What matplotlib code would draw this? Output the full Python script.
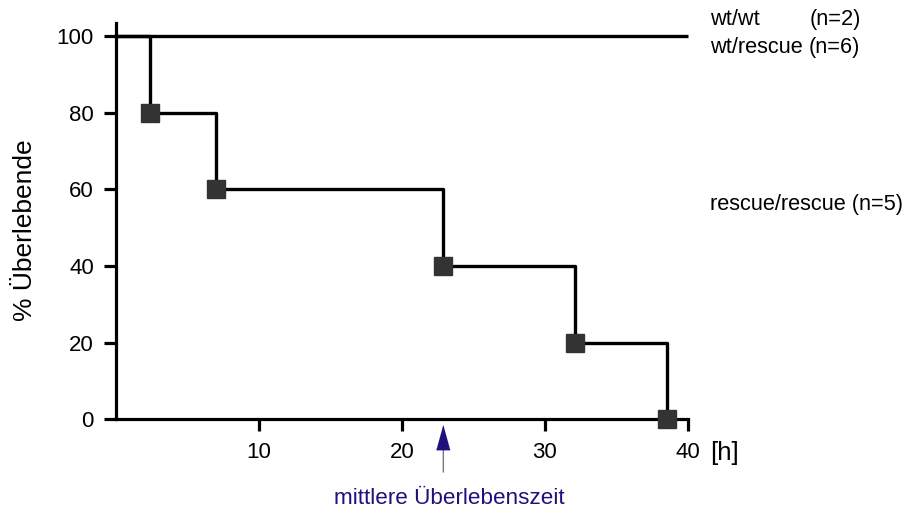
import matplotlib
matplotlib.use("Agg")
import matplotlib.pyplot as plt

plt.rcParams['font.family'] = ['Liberation Sans', 'DejaVu Sans']

# Data
rr_times = [0, 2.4, 7.0, 22.9, 32.1, 38.5]
rr_surv = [100, 80, 60, 40, 20, 0]
wt_times = [0, 40]
wt_surv = [100, 100]
median_time = 22.9
x_ticks = [10, 20, 30, 40]
y_ticks = [0, 20, 40, 60, 80, 100]
names = ["wt/wt", "wt/rescue", "rescue/rescue (n=5)"]
counts = ["(n=2)", "(n=6)"]

fig = plt.figure(figsize=(9.04, 5.11), dpi=100)
ax = fig.add_axes([0.1278, 0.1795, 0.7612 - 0.1278, 0.955 - 0.1795])

lw = 2.4
ax.plot(wt_times, wt_surv, color='black', lw=lw, clip_on=False, solid_capstyle='butt')
ax.step(rr_times, rr_surv, where='post', color='black', lw=lw, clip_on=False)
ax.plot(rr_times[1:], rr_surv[1:], 's', color='#333333', ms=12.5, clip_on=False, zorder=5)

ax.set_xlim(0, 40)
ax.set_ylim(0, 103.4)
for s in ['top', 'right']:
    ax.spines[s].set_visible(False)
for s in ['left', 'bottom']:
    ax.spines[s].set_linewidth(2.3)
ax.set_xticks(x_ticks)
ax.set_yticks(y_ticks)
ax.tick_params(axis='both', length=8.6, width=2.3, labelsize=16)
ax.tick_params(axis='x', pad=7.5)
ax.tick_params(axis='y', pad=7)
ax.set_ylabel('% Überlebende', fontsize=19)
ax.yaxis.set_label_coords(-0.138, 0.477)

# unit label
ax.text(41.55, -8.8, '[h]', fontsize=18.5, ha='left', va='center', clip_on=False)

# right labels
fs = 15.7
ax.text(41.5, 104.2, names[0], fontsize=fs, ha='left', va='center', clip_on=False)
ax.text(48.5, 104.2, counts[0], fontsize=fs, ha='left', va='center', clip_on=False)
ax.text(41.5, 96.9, names[1], fontsize=fs, ha='left', va='center', clip_on=False)
ax.text(48.4, 96.9, counts[1], fontsize=fs, ha='left', va='center', clip_on=False)
ax.text(41.5, 56.0, names[2], fontsize=fs, ha='left', va='center', clip_on=False)

# median arrow
navy = '#1e117e'
ax.annotate('', xy=(median_time, -1.5), xytext=(median_time, -14.5),
            arrowprops=dict(arrowstyle='-', color='#777777', lw=1), annotation_clip=False)
ax.annotate('', xy=(median_time, -1.5), xytext=(median_time, -8.3),
            arrowprops=dict(arrowstyle='-|>,head_length=1.8,head_width=0.5', color=navy, lw=0.1,
                            shrinkA=0, shrinkB=0, mutation_scale=10), annotation_clip=False)
ax.text(median_time + 0.4, -20.6, 'mittlere Überlebenszeit', fontsize=16.2, color=navy,
        ha='center', va='center', clip_on=False)

fig.savefig('out.png', dpi=100)
